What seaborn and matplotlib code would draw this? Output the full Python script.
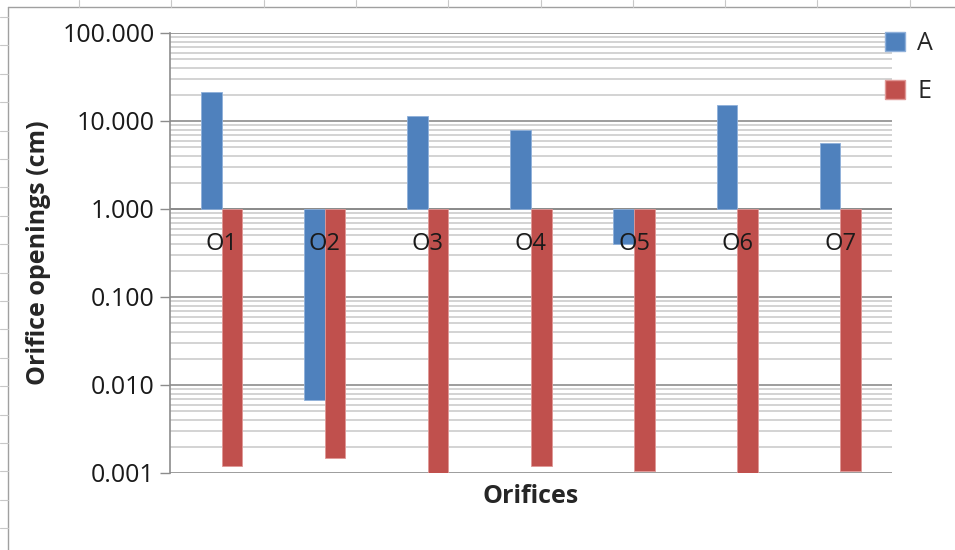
import numpy as np
import matplotlib.pyplot as plt
import seaborn as sns
from matplotlib.lines import Line2D
from matplotlib.patches import Patch
from matplotlib.ticker import FixedLocator, FixedFormatter, LogLocator, NullFormatter

orifices = ['O1', 'O2', 'O3', 'O4', 'O5', 'O6', 'O7']
a_vals = [21.5, 0.0067, 11.4, 7.9, 0.40, 15.3, 5.6]
e_vals = [0.00119, 0.00147, 0.00100, 0.00119, 0.00105, 0.00100, 0.00105]
ytick_vals = [0.001, 0.01, 0.1, 1, 10, 100]
ytick_labels = ['0.001', '0.010', '0.100', '1.000', '10.000', '100.000']

sns.set_style('white')
plt.rcParams['font.family'] = ['Open Sans', 'DejaVu Sans']

blue = '#4F81BD'
red = '#C0504D'

fig = plt.figure(figsize=(9.55, 5.5), dpi=100)
ax = fig.add_axes([0.178, 0.14, 0.756, 0.80])

x = np.arange(len(orifices))
w = 0.2
a = np.array(a_vals)
e = np.array(e_vals)
# bars grow from 1.0 (Excel axis crossing)
ax.bar(x - w / 2, a - 1, bottom=1, width=w, color=blue, edgecolor='#8FB0DA', linewidth=0.6, zorder=3)
ax.bar(x + w / 2, e - 1, bottom=1, width=w, color=red, edgecolor='#E09896', linewidth=0.6, zorder=3)

ax.set_yscale('log')
ax.set_ylim(0.001, 100)
ax.set_xlim(-0.5, len(orifices) - 0.5)

ax.yaxis.set_major_locator(FixedLocator(ytick_vals))
ax.yaxis.set_major_formatter(FixedFormatter(ytick_labels))
ax.yaxis.set_minor_locator(LogLocator(base=10, subs=np.arange(2, 10)))
ax.yaxis.set_minor_formatter(NullFormatter())
ax.grid(axis='y', which='major', color='#8c8c8c', linewidth=1.2, zorder=0)
ax.grid(axis='y', which='minor', color='#cccccc', linewidth=1.2, zorder=0)
ax.axhline(1, color='#8c8c8c', linewidth=1.4, zorder=2)

ax.tick_params(axis='y', which='major', length=7, width=1, color='#8c8c8c',
               labelsize=18, pad=4, left=True, labelcolor='#1a1a1a')
ax.tick_params(axis='y', which='minor', length=0)
ax.set_xticks([])

for s in ['top', 'right', 'bottom']:
    ax.spines[s].set_visible(False)
ax.spines['left'].set_color('#8c8c8c')
ax.spines['left'].set_linewidth(1.2)

for xi, lab in zip(x, orifices):
    ax.annotate(lab, xy=(xi, 1), xytext=(0, -25), textcoords='offset points',
                ha='center', va='center', fontsize=17, color='#1a1a1a', zorder=4)

ax.set_xlabel('Orifices', fontsize=18, fontweight='bold', labelpad=8)
ax.set_ylabel('Orifice openings (cm)', fontsize=18, fontweight='bold', labelpad=8)

handles = [Patch(facecolor=blue, edgecolor='#8FB0DA'), Patch(facecolor=red, edgecolor='#E09896')]
fig.legend(handles, ['A', 'E'], loc='upper left', bbox_to_anchor=(0.903, 0.985),
           frameon=False, fontsize=18, handlelength=0.8, handleheight=0.8,
           handletextpad=0.5, labelspacing=0.95)

# outer frame of the embedded chart
W, H = 955, 550
fig.add_artist(Line2D([8 / W, 1], [1 - 7 / H, 1 - 7 / H], transform=fig.transFigure,
                      color='#a0a0a0', linewidth=1))
fig.add_artist(Line2D([8 / W, 8 / W], [0, 1 - 7 / H], transform=fig.transFigure,
                      color='#a0a0a0', linewidth=1))
for px in np.arange(79, W, 92.3):
    fig.add_artist(Line2D([px / W, px / W], [1 - 7 / H, 1], transform=fig.transFigure,
                          color='#c8c8c8', linewidth=0.8))
for py in np.arange(17, H, 28.4):
    fig.add_artist(Line2D([0, 8 / W], [1 - py / H, 1 - py / H], transform=fig.transFigure,
                          color='#c8c8c8', linewidth=0.8))

fig.savefig('out.png', dpi=100)
